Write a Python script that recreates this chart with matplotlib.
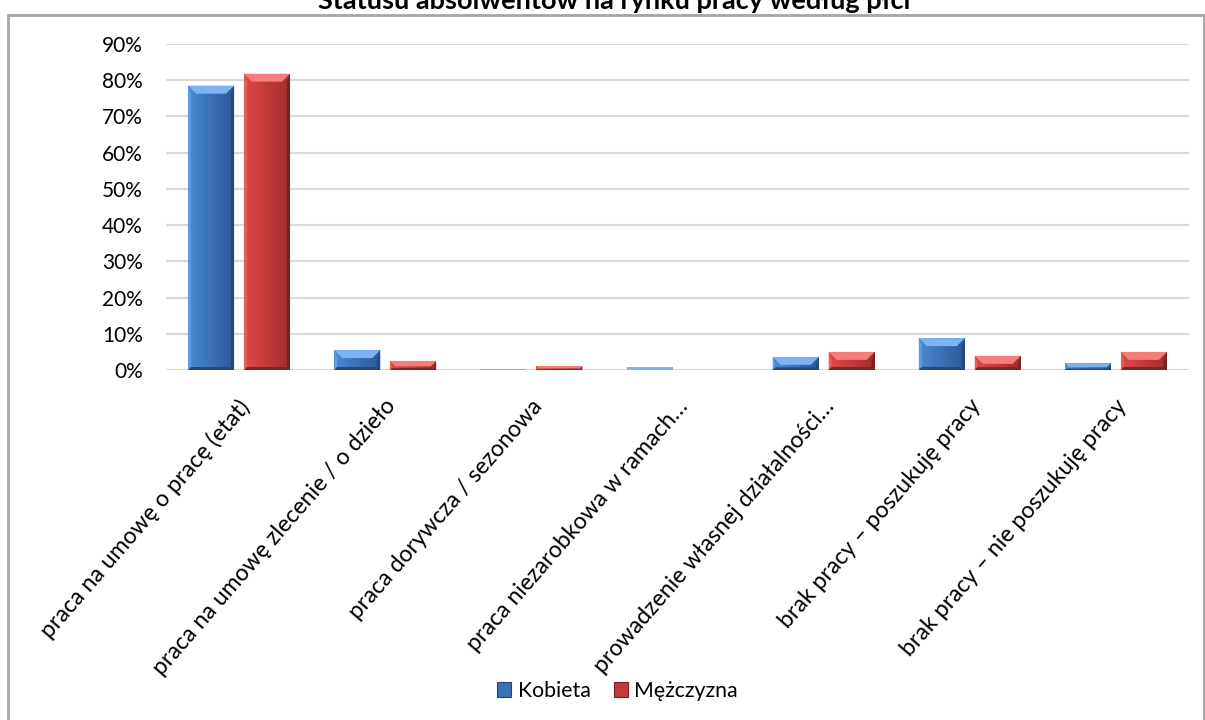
import matplotlib
matplotlib.use("Agg")
import matplotlib.pyplot as plt
import numpy as np
from matplotlib.patches import Polygon, Rectangle
from matplotlib.transforms import ScaledTranslation, IdentityTransform
from matplotlib.ticker import FuncFormatter
from matplotlib.colors import LinearSegmentedColormap

plt.rcParams['font.family'] = ['Lato', 'DejaVu Sans']

title = "Statusu absolwentów na rynku pracy według płci"
categories = [
    "praca na umowę o pracę (etat)",
    "praca na umowę zlecenie / o dzieło",
    "praca dorywcza / sezonowa",
    "praca niezarobkowa w ramach…",
    "prowadzenie własnej działalności…",
    "brak pracy – poszukuję pracy",
    "brak pracy – nie poszukuję pracy",
]
series_names = ["Kobieta", "Mężczyzna"]
kobieta = [78.5, 5.5, 0.2, 0.8, 3.6, 8.8, 1.9]
mezczyzna = [81.8, 2.5, 1.1, 0.0, 5.0, 3.9, 5.0]

W, H = 1205, 720
fig = plt.figure(figsize=(W / 100, H / 100), dpi=100)
fig.patch.set_facecolor("white")

# chart border
fig.patches.append(Rectangle((8 / W, -0.1), (1204 - 8) / W, 1.1 - 15 / H,
                             transform=fig.transFigure, fill=False,
                             edgecolor="#A6A6A6", linewidth=2.0, zorder=0))

ax = fig.add_axes([166 / W, 1 - 370 / H, (1189 - 166) / W, (370 - 44) / H])
ax.set_facecolor("none")

x = np.arange(len(categories))
bw = 46 / 146.3
off = 28 / 146.3

vals = [np.array(kobieta) / 100, np.array(mezczyzna) / 100]
styles = [
    dict(face=("#4C8AD6", "#3A70B5", "#2C5A95"), top="#7DB3F2", left="#5C9AE3",
         right="#23487A", bottom="#24497B"),
    dict(face=("#DE4A47", "#C13A39", "#9E2E2E"), top="#F57E7B", left="#E55E5B",
         right="#7A2020", bottom="#7F2323"),
]

ax.set_xlim(-0.5, len(categories) - 0.5)
ax.set_ylim(0, 0.9)
ax.set_yticks(np.arange(0, 0.91, 0.1))
ax.yaxis.set_major_formatter(FuncFormatter(lambda v, p: f"{v * 100:.0f}%"))
ax.yaxis.grid(True, color="#D9D9D9", linewidth=1.6)
ax.set_axisbelow(True)
for s in ax.spines.values():
    s.set_visible(False)
ax.tick_params(axis="both", length=0)
ax.tick_params(axis="y", labelsize=15, pad=16.5)
ax.set_xticks(x)
ax.set_xticklabels(categories, rotation=49, ha="right", va="top",
                   rotation_mode="anchor", fontsize=16.7)
ax.tick_params(axis="x", pad=18.4)
for lab in ax.get_xticklabels():
    lab.set_transform(lab.get_transform() + ScaledTranslation(-1 / 100, 0, fig.dpi_scale_trans))

containers = []
for i, (v, st) in enumerate(zip(vals, styles)):
    c = ax.bar(x + (2 * i - 1) * off, v, width=bw, color=st["face"][1],
               edgecolor="none", zorder=2, label=series_names[i])
    containers.append(c)

# gradient face + bevel decoration derived from bar geometry
for c, st in zip(containers, styles):
    cmap = LinearSegmentedColormap.from_list("g", list(st["face"]))
    grad = np.linspace(0, 1, 64).reshape(1, -1)
    for p in c.patches:
        x0, y0 = p.get_x(), p.get_y()
        w, h = p.get_width(), p.get_height()
        if h <= 0:
            continue
        im = ax.imshow(grad, cmap=cmap, extent=(x0, x0 + w, y0, y0 + h),
                       aspect="auto", zorder=2.1, interpolation="bilinear")
        im.set_clip_path(p)
        (px0, py0) = ax.transData.transform((x0, y0))
        (px1, py1) = ax.transData.transform((x0 + w, y0 + h))
        hh = py1 - py0
        bt = min(8.0, hh * 0.6)
        bs = min(3.0, hh * 0.2)
        bb = min(3.0, hh * 0.2)
        polys = [
            ([(px0, py1), (px1, py1), (px1 - bt, py1 - bt), (px0 + bt, py1 - bt)], st["top"]),
            ([(px0, py1), (px0 + bs, py1 - bt), (px0 + bs, py0 + bb), (px0, py0)], st["left"]),
            ([(px1, py1), (px1 - bs, py1 - bt), (px1 - bs, py0 + bb), (px1, py0)], st["right"]),
            ([(px0, py0), (px0 + bs, py0 + bb), (px1 - bs, py0 + bb), (px1, py0)], st["bottom"]),
        ]
        if hh < 3:
            polys = [([(px0, py0), (px1, py0), (px1, py1), (px0, py1)], st["top"])]
        for pts, col in polys:
            pg = Polygon(pts, closed=True, transform=IdentityTransform(),
                         facecolor=col, edgecolor="none", zorder=2.2)
            ax.add_artist(pg)

# legend
handles = [Rectangle((0, 0), 1, 1, facecolor=st["face"][1], edgecolor=st["right"], linewidth=0.8)
           for st in styles]
fig.legend(handles, series_names, loc="center", bbox_to_anchor=(617.5 / W, 1 - 691 / H),
           ncol=2, frameon=False, fontsize=15.3, handlelength=0.66, handleheight=0.66,
           handletextpad=0.3, columnspacing=1.08)

fig.text(614 / W, 1 - 9 / H, title, ha="center", va="baseline",
         fontsize=19.5, fontweight="bold")

fig.savefig("out.png", dpi=100)
